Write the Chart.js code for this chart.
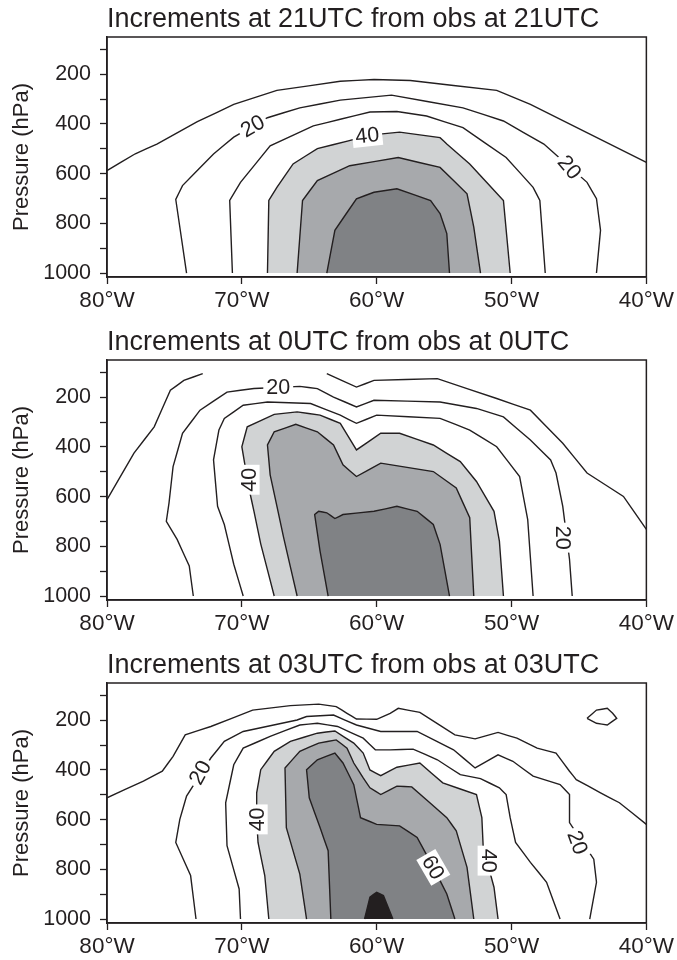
<!DOCTYPE html>
<html>
<head>
<meta charset="utf-8">
<script src="https://cdn.jsdelivr.net/npm/chart.js@4.4.0/dist/chart.umd.min.js"></script>
<style>
html,body{margin:0;padding:0;background:#fff;width:677px;height:960px;overflow:hidden}
.panel{position:absolute;left:0;width:677px;height:323px}
</style>
</head>
<body>
<div class="panel" style="top:0"><canvas id="c1" width="677" height="323"></canvas></div>
<div class="panel" style="top:323px"><canvas id="c2" width="677" height="323"></canvas></div>
<div class="panel" style="top:646px"><canvas id="c3" width="677" height="323"></canvas></div>
<script>
/* axes */
const lonTicks=[-80,-70,-60,-50,-40];
const presTicks=[100,200,300,400,500,600,700,800,900,1000];

/* contour paths: [longitude, pressure] */
// 21UTC
const p1_c10=[[-80,588],[-77.9,520],[-76.3,481],[-73.3,391],[-70.6,321],[-67.4,265],[-62.7,228],[-60.2,221],[-57.5,225],[-51.1,265],[-48.6,321],[-40,555]];
const p1_c20=[[-74.1,1000],[-74.9,704],[-74.4,648],[-72.1,521],[-70.6,453],[-68.1,375],[-65.7,335],[-62.7,304],[-58.9,284],[-53.6,335],[-50.6,388],[-47.6,481],[-44.4,635],[-43.7,701],[-43.4,828],[-43.7,1000]];
const p1_c30=[[-70.7,1000],[-70.9,708],[-70.1,635],[-67.9,488],[-64.7,408],[-62.7,381],[-60.5,352],[-58.5,350],[-56.3,368],[-53.6,415],[-50.4,535],[-48.4,655],[-47.9,708],[-47.5,1000]];
const p1_c40=[[-68.1,1000],[-68.0,708],[-67.4,655],[-66.2,561],[-64.4,499],[-62.1,468],[-60.5,445],[-58.3,433],[-55.3,455],[-54.8,481],[-53.1,561],[-50.6,708],[-50.1,1000]];
const p1_c50=[[-65.9,1000],[-65.5,708],[-64.4,628],[-62,568],[-58.4,535],[-55.3,575],[-53.3,681],[-52.8,815],[-52.3,1000]];
const p1_c60=[[-63.7,1000],[-63.1,828],[-61.5,701],[-60.2,675],[-58.5,661],[-56,708],[-55.3,761],[-54.8,841],[-54.6,1000]];
const p1_labels=[['20',-69.2,408,-30],['40',-60.7,446,-6],['20',-45.7,574,50]];

// 0UTC
const p2_c10a=[[-80,612],[-78,425],[-76.5,319],[-75.3,172],[-74.3,132],[-72.9,105]];
const p2_c10b=[[-63.7,105],[-61.5,159],[-60.2,132],[-55.5,125],[-51.1,205],[-48.6,252],[-46.2,385],[-44.4,505],[-41.7,599],[-40,732]];
const p2_c20=[[-73.6,1000],[-73.9,879],[-74.8,772],[-75.6,699],[-75.4,625],[-75.1,479],[-74.4,345],[-73.1,252],[-71.1,179],[-69.1,165],[-65.7,156],[-64.4,165],[-63.2,199],[-61.5,239],[-60.2,212],[-55.3,219],[-52.6,245],[-50.6,279],[-48.6,372],[-47.1,452],[-46.7,505],[-46.2,639],[-45.7,852],[-45.5,1000]];
const p2_c30=[[-69.9,1000],[-70.6,872],[-71.3,712],[-71.8,639],[-72.1,452],[-71.7,332],[-71.3,285],[-69.9,232],[-68.1,219],[-64.9,225],[-62.7,272],[-61.5,305],[-60,272],[-55.3,285],[-53.1,332],[-51.1,399],[-49.4,519],[-48.8,692],[-48.4,1000]];
const p2_c40=[[-67.6,1000],[-68.6,790],[-69.1,659],[-69.5,560],[-70,399],[-69.6,319],[-67.6,269],[-65.9,259],[-64.2,272],[-62.7,305],[-61.5,412],[-59.7,345],[-58.3,345],[-55.8,392],[-53.8,459],[-52.6,539],[-51.3,659],[-50.9,779],[-50.6,1000]];
const p2_c50=[[-65.9,1000],[-66.9,765],[-67.9,512],[-68.1,392],[-67.6,339],[-66,309],[-64.4,339],[-63.2,392],[-62.5,472],[-61.5,519],[-59.7,465],[-55.8,499],[-54.1,565],[-53.1,685],[-52.8,1000]];
const p2_c60=[[-63.6,1000],[-64.2,819],[-64.6,672],[-64.3,659],[-63.7,665],[-63.1,688],[-62.5,672],[-60.2,659],[-58.5,639],[-57,659],[-55.8,712],[-55.3,792],[-54.6,1000]];
const p2_labels=[['20',-67.3,159,0],['40',-69.5,532,-90],['20',-46.2,765,90]];

// 03UTC
const p3_c10a=[[-80,512],[-77.3,445],[-75.9,405],[-75.1,345],[-74.2,259],[-72.3,225],[-69.2,159],[-66.4,141],[-64.3,135],[-63,145],[-62.2,172],[-61.5,195],[-60,196],[-59,172],[-58.4,152],[-56.8,168],[-54.2,259],[-52.7,275],[-51,249],[-49.6,272],[-48.1,312],[-46.7,332],[-45.7,405],[-45.2,439],[-43.4,492],[-42,532],[-40,619]];
const p3_c10b=[[-44.4,192],[-43.7,159],[-42.9,152],[-42.5,172],[-42.2,192],[-42.9,219],[-43.7,212],[-44.4,192]];
const p3_c20=[[-73.4,1000],[-73.8,825],[-74.9,692],[-74.6,599],[-74.1,505],[-72.3,352],[-71.3,285],[-69.9,245],[-65.9,199],[-65.2,185],[-63.2,179],[-61.5,219],[-59.7,245],[-57,245],[-54.3,319],[-52.7,392],[-51,339],[-49.9,365],[-48.4,425],[-46.4,459],[-45.7,499],[-45.7,612],[-43.9,759],[-43.7,852],[-44.2,1000]];
const p3_c30=[[-70.1,1000],[-70.2,879],[-71.1,705],[-71.2,532],[-70.6,379],[-69.9,312],[-67.9,265],[-65.7,219],[-64.4,212],[-62.9,225],[-61,272],[-60.1,319],[-59,319],[-57.3,316],[-55.5,359],[-53.8,419],[-52.3,435],[-50.9,472],[-50.4,499],[-50.1,592],[-49.7,692],[-48.6,772],[-47.4,852],[-46.4,1000]];
const p3_c40=[[-68,1000],[-68.3,825],[-68.8,692],[-68.9,599],[-68.9,492],[-68.6,399],[-67.6,325],[-66.4,285],[-64.4,252],[-63.1,243],[-61.7,292],[-61,332],[-60.5,400],[-59.7,423],[-58.5,389],[-56.8,372],[-55.1,452],[-52.6,499],[-52.2,592],[-52.1,712],[-51.3,872],[-51,1000]];
const p3_c50=[[-65.2,1000],[-65.7,819],[-66.7,632],[-66.8,392],[-65.7,325],[-64.3,292],[-63,279],[-62.2,312],[-61.7,372],[-61,432],[-60.5,472],[-59.7,499],[-58.5,465],[-57.4,468],[-54.8,592],[-54.1,645],[-53.3,792],[-52.8,1000]];
const p3_c60=[[-63.4,1000],[-63.6,725],[-64.2,632],[-65,512],[-65.2,399],[-64.4,359],[-63.1,332],[-62.5,372],[-61.7,459],[-61.5,512],[-61.2,592],[-60,619],[-58.3,625],[-57,672],[-55.8,792],[-54.8,899],[-54.2,1000]];
const p3_c70=[[-60.9,1000],[-60.5,912],[-60,892],[-59.5,905],[-58.8,1000]];
const p3_labels=[['20',-73.1,410,-62],['40',-68.9,599,-90],['60',-55.8,792,60],['40',-51.7,765,90],['20',-45.1,692,70]];

const titles=['Increments at 21UTC from obs at 21UTC','Increments at 0UTC from obs at 0UTC','Increments at 03UTC from obs at 03UTC'];

const FONT='"Liberation Sans", Arial, Helvetica, sans-serif';
const INK='#231f20';
const shade={40:'#d1d3d4',50:'#a7a9ac',60:'#808285',70:'#231f20'};

function contourSet(level,pts){
  return {
    data:pts.map(([x,y])=>({x,y})),
    borderColor:INK,borderWidth:1.4,pointRadius:0,tension:0.0001,
    fill:shade[level]?'shape':false,
    backgroundColor:shade[level]||'transparent',
    order:-level,
  };
}

// white-boxed contour labels + plot frame
function overlay(labels){
  return {
    id:'overlay',
    afterDatasetsDraw(chart){
      const {ctx,chartArea:a,scales:{x,y}}=chart;
      ctx.save();
      ctx.font='21.5px '+FONT;
      ctx.textAlign='center';ctx.textBaseline='middle';
      labels.forEach(([t,lon,p,rot])=>{
        ctx.save();
        ctx.translate(x.getPixelForValue(lon),y.getPixelForValue(p));
        ctx.rotate(rot*Math.PI/180);
        const w=ctx.measureText(t).width+6;
        ctx.fillStyle='#fff';ctx.fillRect(-w/2,-11,w,22);
        ctx.fillStyle=INK;ctx.fillText(t,0,1);
        ctx.restore();
      });
      ctx.strokeStyle=INK;ctx.lineWidth=1.5;
      ctx.strokeRect(a.left,a.top,a.right-a.left,a.bottom-a.top);
      ctx.restore();
    }
  };
}

function mkPanel(id,title,sets,labels){
  return new Chart(document.getElementById(id),{
    type:'line',
    data:{datasets:sets},
    options:{
      responsive:false,animation:false,devicePixelRatio:1,events:[],
      layout:{padding:{left:0,right:30.5,top:0,bottom:0}},
      plugins:{
        legend:{display:false},tooltip:{enabled:false},
        title:{display:true,text:title,align:'start',fullSize:false,color:INK,
          font:{family:FONT,size:27,weight:'normal'},padding:{top:3,bottom:1.6}},
      },
      scales:{
        x:{type:'linear',min:-80,max:-40,
          afterBuildTicks:s=>{s.ticks=lonTicks.map(v=>({value:v}));},
          afterFit:s=>{s.height=46;},
          ticks:{color:INK,font:{family:FONT,size:22.5},padding:3,maxRotation:0,callback:v=>Math.abs(v)+'°W'},
          grid:{drawOnChartArea:false,drawTicks:true,tickLength:7,tickColor:INK,tickWidth:1.3},
          border:{display:true,color:INK,width:1.5}},
        y:{type:'linear',reverse:true,min:50,max:1016,
          afterBuildTicks:s=>{s.ticks=presTicks.map(v=>({value:v}));},
          afterFit:s=>{s.width=107;},
          ticks:{color:INK,font:{family:FONT,size:21.5},padding:9,autoSkip:false,callback:v=>v%200===0?String(v):''},
          grid:{drawOnChartArea:false,drawTicks:true,tickLength:7,tickColor:INK,tickWidth:1.3},
          border:{display:true,color:INK,width:1.5},
          title:{display:true,text:'Pressure (hPa)',color:INK,font:{family:FONT,size:22},padding:{top:9,bottom:0}}},
      }
    },
    plugins:[overlay(labels)]
  });
}

mkPanel('c1',titles[0],[
  contourSet(10,p1_c10),contourSet(20,p1_c20),contourSet(30,p1_c30),
  contourSet(40,p1_c40),contourSet(50,p1_c50),contourSet(60,p1_c60)],p1_labels);
mkPanel('c2',titles[1],[
  contourSet(10,p2_c10a),contourSet(10,p2_c10b),contourSet(20,p2_c20),contourSet(30,p2_c30),
  contourSet(40,p2_c40),contourSet(50,p2_c50),contourSet(60,p2_c60)],p2_labels);
mkPanel('c3',titles[2],[
  contourSet(10,p3_c10a),contourSet(10,p3_c10b),contourSet(20,p3_c20),contourSet(30,p3_c30),
  contourSet(40,p3_c40),contourSet(50,p3_c50),contourSet(60,p3_c60),contourSet(70,p3_c70)],p3_labels);
</script>
</body>
</html>
